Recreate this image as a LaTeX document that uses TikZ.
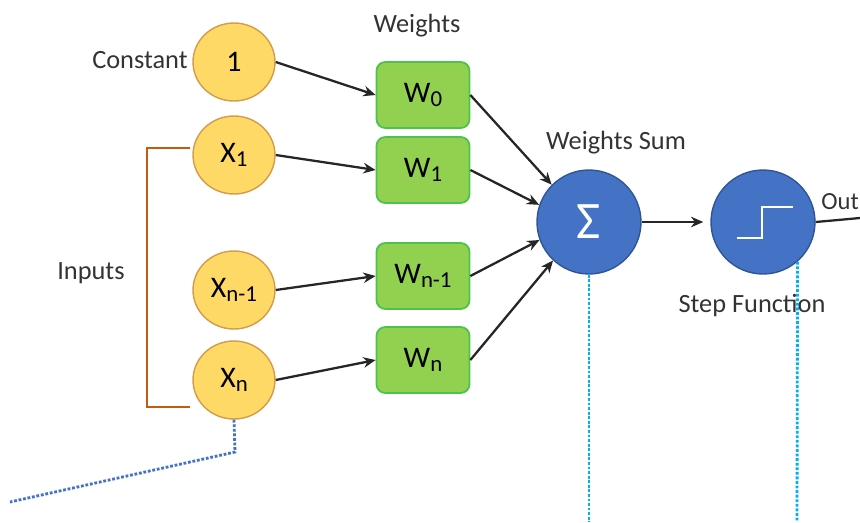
\documentclass[tikz,border=0pt]{standalone}
\usepackage{fontspec}
\setmainfont{Carlito}
\usetikzlibrary{shapes.geometric,arrows.meta}

\definecolor{inyellow}{HTML}{FFD966}
\definecolor{inedge}{HTML}{D39B4A}
\definecolor{wgreen}{HTML}{92D050}
\definecolor{wedge}{HTML}{4CC34A}
\definecolor{unitblue}{HTML}{4472C4}
\definecolor{unitedge}{HTML}{2F5597}
\definecolor{brorange}{HTML}{C55A11}
\definecolor{dotblue}{HTML}{4472C4}
\definecolor{dotcyan}{HTML}{00B0F0}

\newcommand{\lowsub}[1]{\raisebox{-0.25ex}{\fontsize{13}{13}\selectfont #1}}

\begin{document}
\begin{tikzpicture}[x=0.02cm,y=-0.02cm,
        inp/.style={ellipse,draw=inedge,fill=inyellow,line width=0.8pt,
                minimum width=1.64cm,minimum height=1.56cm,inner sep=0pt,
                font=\fontsize{17}{17}\selectfont},
        wbox/.style={rectangle,rounded corners=5pt,draw=wedge,fill=wgreen,line width=1pt,
                minimum width=1.86cm,minimum height=1.32cm,inner sep=0pt,
                font=\fontsize{17}{17}\selectfont},
        unit/.style={circle,draw=unitedge,fill=unitblue,line width=0.8pt,
                minimum size=2.08cm,inner sep=0pt},
        lbl/.style={inner sep=0pt,text=black!80,font=\fontsize{15}{15}\selectfont},
        link/.style={-{Stealth[length=7pt,width=6pt]},line width=1.3pt,black!85}]
        \useasboundingbox (0,0) rectangle (860,522);

        % inputs
        \node[inp] (one) at (234,62) {1};
        \node[inp] (x1) at (234,155) {X\lowsub{1}};
        \node[inp] (xn1) at (234,290) {X\lowsub{n-1}};
        \node[inp] (xn) at (234,380) {X\lowsub{n}};

        % weights
        \node[wbox] (w0) at (423,95) {W\lowsub{0}};
        \node[wbox] (w1) at (423,170) {W\lowsub{1}};
        \node[wbox] (wn1) at (423,276) {W\lowsub{n-1}};
        \node[wbox] (wn) at (423,360) {W\lowsub{n}};

        % sum and step
        \node[unit,text=white,font=\fontsize{30}{30}\selectfont] (sum) at (589,222) {Σ};
        \node[unit] (step) at (763,222) {};
        \draw[white,line width=1.6pt] (737,238) -- (762,238) -- (762,207) -- (793,207);

        % labels
        \node[lbl,anchor=east] (constlbl) at (188,60) {Constant};
        \node[lbl] (wlbl) at (417,26) {Weights};
        \node[lbl] (sumlbl) at (616,143) {Weights Sum};
        \node[lbl] (steplbl) at (752,306) {Step Function};
        \node[lbl] (inlbl) at (91,273) {Inputs};
        \node[lbl,anchor=west,font=\fontsize{14}{14}\selectfont] (outlbl) at (821,202) {Out};

        % connections
        \draw[link] (one.east) -- (w0.west);
        \draw[link] (x1.east) -- (w1.west);
        \draw[link] (xn1.east) -- (wn1.west);
        \draw[link] (xn.east) -- (wn.west);

        \draw[link] (w0.east) -- (sum.135);
        \draw[link] (w1.east) -- (sum.161);
        \draw[link] (wn1.east) -- (sum.200);
        \draw[link] (wn.east) -- (sum.227);

        \draw[link] (sum.east) -- ([xshift=-4pt]step.west);
        \coordinate (outend) at (860,218);
        \draw[line width=1.3pt,black!85] (step.east) -- (outend);

        % inputs bracket
        \draw[brorange,line width=1.5pt] (190,148) -| (147,407) -- (190,407);

        % dotted leaders
        \coordinate (xnbend) at (235,452);
        \coordinate (xnend) at (10,502);
        \draw[dotblue,densely dotted,line width=1.6pt] (xn.south) -- (xnbend) -- (xnend);
        \coordinate (sumend) at (589,522);
        \coordinate (stepend) at (797,522);
        \draw[dotcyan,densely dotted,line width=1.6pt] (sum.south) -- (sumend);
        \draw[dotcyan,densely dotted,line width=1.6pt] (step.-49) -- (stepend);
\end{tikzpicture}
\end{document}
